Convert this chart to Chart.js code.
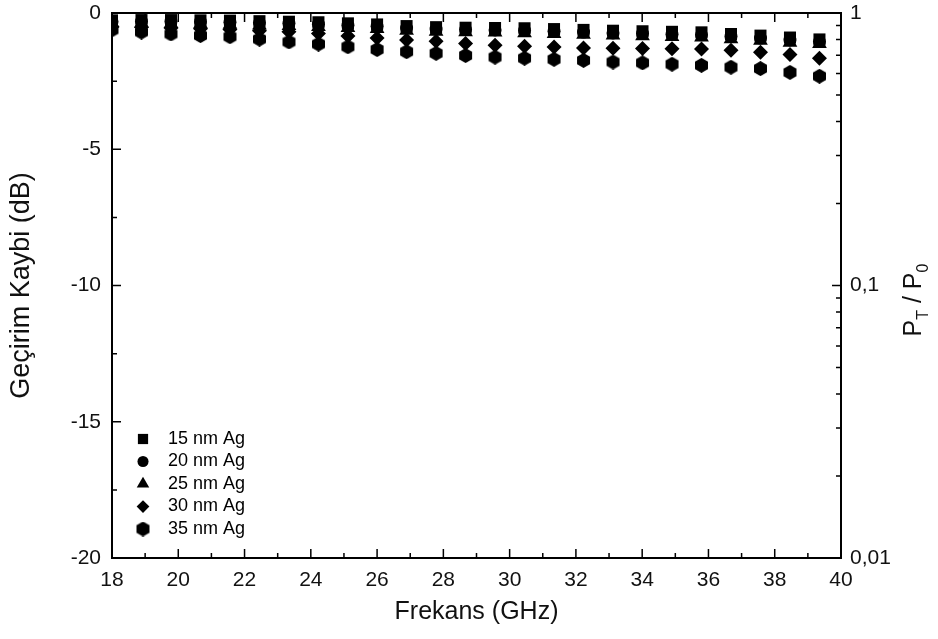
<!DOCTYPE html>
<html>
<head>
<meta charset="utf-8">
<script src="https://cdn.jsdelivr.net/npm/chart.js@4/dist/chart.umd.min.js"></script>
<style>
  body { margin: 0; background: #fff; }
  #wrap { width: 938px; height: 639px; }
</style>
</head>
<body>
<div id="wrap"><canvas id="lossChart" width="938" height="639"></canvas></div>
<script>
// frequencies (GHz)
const freqs = [18.0, 18.89, 19.78, 20.67, 21.56, 22.45, 23.34, 24.23, 25.12, 26.0, 26.89, 27.78, 28.67,
  29.56, 30.45, 31.34, 32.23, 33.12, 34.01, 34.9, 35.79, 36.68, 37.57, 38.46, 39.35];

// transmission loss (dB) per Ag thickness
const loss15 = [-0.27, -0.26, -0.26, -0.27, -0.28, -0.30, -0.32, -0.34, -0.38, -0.42, -0.48, -0.52, -0.54,
  -0.55, -0.56, -0.59, -0.62, -0.65, -0.67, -0.69, -0.71, -0.77, -0.83, -0.90, -0.97];
const loss20 = [-0.32, -0.31, -0.31, -0.32, -0.34, -0.36, -0.38, -0.41, -0.45, -0.49, -0.55, -0.59, -0.61,
  -0.62, -0.64, -0.67, -0.70, -0.73, -0.75, -0.78, -0.80, -0.86, -0.92, -0.99, -1.05];
const loss25 = [-0.38, -0.38, -0.39, -0.40, -0.42, -0.45, -0.47, -0.50, -0.54, -0.58, -0.64, -0.68, -0.70,
  -0.71, -0.73, -0.76, -0.79, -0.82, -0.84, -0.87, -0.89, -0.95, -1.01, -1.08, -1.13];
const loss30 = [-0.50, -0.52, -0.55, -0.58, -0.61, -0.65, -0.69, -0.75, -0.84, -0.92, -0.99, -1.04, -1.12,
  -1.18, -1.22, -1.25, -1.28, -1.29, -1.30, -1.31, -1.32, -1.37, -1.44, -1.52, -1.66];
const loss35 = [-0.62, -0.70, -0.77, -0.83, -0.87, -0.96, -1.06, -1.14, -1.24, -1.34, -1.42, -1.48, -1.56,
  -1.62, -1.66, -1.70, -1.74, -1.80, -1.83, -1.88, -1.92, -1.99, -2.04, -2.18, -2.32];

const seriesNames = ['15 nm Ag', '20 nm Ag', '25 nm Ag', '30 nm Ag', '35 nm Ag'];
const rightTicks = [0.01, 0.1, 1];

const FONT = "'Liberation Sans', Arial, sans-serif";

// hexagon marker (no built-in one in Chart.js)
function makeHexagon(size) {
  const c = document.createElement('canvas');
  c.width = size; c.height = size;
  const g = c.getContext('2d');
  const r = size / 2;
  g.beginPath();
  for (let k = 0; k < 6; k++) {
    const a = Math.PI / 3 * k - Math.PI / 2;
    const px = r + r * Math.cos(a), py = r + r * Math.sin(a);
    if (k) g.lineTo(px, py); else g.moveTo(px, py);
  }
  g.closePath();
  g.fillStyle = '#000';
  g.fill();
  return c;
}
const hexagon = makeHexagon(15);

const styles = [
  { pointStyle: 'rect', radius: 8.5 },
  { pointStyle: 'circle', radius: 6.5 },
  { pointStyle: 'triangle', radius: 8.5 },
  { pointStyle: 'rectRot', radius: 7.5 },
  { pointStyle: hexagon, radius: 7.5 }
];
const allLoss = [loss15, loss20, loss25, loss30, loss35];

const datasets = allLoss.map((vals, i) => ({
  label: seriesNames[i],
  data: freqs.map((f, k) => ({ x: f, y: vals[k] })),
  showLine: false,
  pointStyle: styles[i].pointStyle,
  pointRadius: styles[i].radius,
  pointHoverRadius: styles[i].radius,
  backgroundColor: '#000',
  borderColor: '#000',
  borderWidth: 0
}));

// inward ticks, top frame line, legend and right title
const decorPlugin = {
  id: 'decor',
  beforeDatasetsDraw(chart) {
    const { ctx, chartArea: a, scales } = chart;
    ctx.save();
    ctx.strokeStyle = '#000';
    ctx.lineWidth = 1.5;
    ctx.beginPath();
    for (let v = 18; v <= 40; v++) {
      const px = scales.x.getPixelForValue(v);
      const len = v % 2 === 0 ? 9 : 5;
      ctx.moveTo(px, a.bottom); ctx.lineTo(px, a.bottom - len);
      ctx.moveTo(px, a.top); ctx.lineTo(px, a.top + len);
    }
    for (let v = -20; v <= 0; v += 2.5) {
      const py = scales.y.getPixelForValue(v);
      const len = v % 5 === 0 ? 9 : 5;
      ctx.moveTo(a.left, py); ctx.lineTo(a.left + len, py);
    }
    [0.01, 0.1].forEach(dec => {
      for (let m = 1; m <= 10; m++) {
        const py = scales.y2.getPixelForValue(dec * m);
        const len = (m === 1 || m === 10) ? 9 : 5;
        ctx.moveTo(a.right, py); ctx.lineTo(a.right - len, py);
      }
    });
    ctx.stroke();
    ctx.lineWidth = 2;
    ctx.beginPath();
    ctx.moveTo(a.left - 1, a.top); ctx.lineTo(a.right + 1, a.top);
    ctx.stroke();
    ctx.restore();
  },
  afterDraw(chart) {
    const ctx = chart.ctx;
    ctx.save();
    // legend
    ctx.fillStyle = '#000';
    ctx.strokeStyle = '#000';
    ctx.font = '18px ' + FONT;
    ctx.textBaseline = 'middle';
    ctx.textAlign = 'left';
    seriesNames.forEach((name, i) => {
      const y = 439 + i * 22.5;
      Chart.helpers.drawPoint(ctx, { pointStyle: styles[i].pointStyle, radius: styles[i].radius * 0.85, rotation: 0, borderWidth: 0 }, 143, y);
      ctx.fillText(name, 168, y);
    });
    // right axis title P_T / P_0
    ctx.fillStyle = '#111';
    ctx.translate(913, 300);
    ctx.rotate(-Math.PI / 2);
    const big = '25px ' + FONT, small = '16px ' + FONT;
    const parts = [['P', big, 0], ['T', small, 7], [' / ', big, 0], ['P', big, 0], ['0', small, 7]];
    let total = 0;
    parts.forEach(p => { ctx.font = p[1]; total += ctx.measureText(p[0]).width; });
    let x = -total / 2;
    ctx.textBaseline = 'alphabetic';
    parts.forEach(p => {
      ctx.font = p[1];
      ctx.fillText(p[0], x, 8 + p[2]);
      x += ctx.measureText(p[0]).width;
    });
    ctx.restore();
  }
};

new Chart(document.getElementById('lossChart'), {
  type: 'scatter',
  data: { datasets: datasets },
  options: {
    responsive: false,
    animation: false,
    layout: { padding: { top: 13, left: 0, right: 0, bottom: 0 } },
    plugins: {
      legend: { display: false },
      tooltip: { enabled: false }
    },
    scales: {
      x: {
        type: 'linear',
        min: 18,
        max: 40,
        afterFit: s => { s.height = 81; },
        grid: { display: false, drawTicks: false },
        border: { display: true, color: '#000', width: 2 },
        ticks: { stepSize: 2, padding: 10, color: '#111', font: { family: FONT, size: 21 } },
        title: { display: true, text: 'Frekans (GHz)', color: '#111', font: { family: FONT, size: 25 }, padding: { top: 0, bottom: 12 } }
      },
      y: {
        type: 'linear',
        position: 'left',
        min: -20,
        max: 0,
        afterFit: s => { s.width = 112; s.paddingTop = 0; s.paddingBottom = 0; },
        grid: { display: false, drawTicks: false },
        border: { display: true, color: '#000', width: 2 },
        ticks: { stepSize: 5, padding: 11, color: '#111', font: { family: FONT, size: 21 } },
        title: { display: true, text: 'Geçirim Kaybi (dB)', color: '#111', font: { family: FONT, size: 27 }, padding: { top: 5, bottom: 0 } }
      },
      y2: {
        type: 'logarithmic',
        position: 'right',
        min: 0.01,
        max: 1,
        afterFit: s => { s.width = 97; s.paddingTop = 0; s.paddingBottom = 0; },
        afterBuildTicks: s => { s.ticks = rightTicks.map(v => ({ value: v, major: true })); },
        grid: { display: false, drawTicks: false },
        border: { display: true, color: '#000', width: 2 },
        ticks: {
          padding: 9,
          color: '#111',
          font: { family: FONT, size: 21 },
          callback: v => String(v).replace('.', ',')
        }
      }
    }
  },
  plugins: [decorPlugin]
});
</script>
</body>
</html>
